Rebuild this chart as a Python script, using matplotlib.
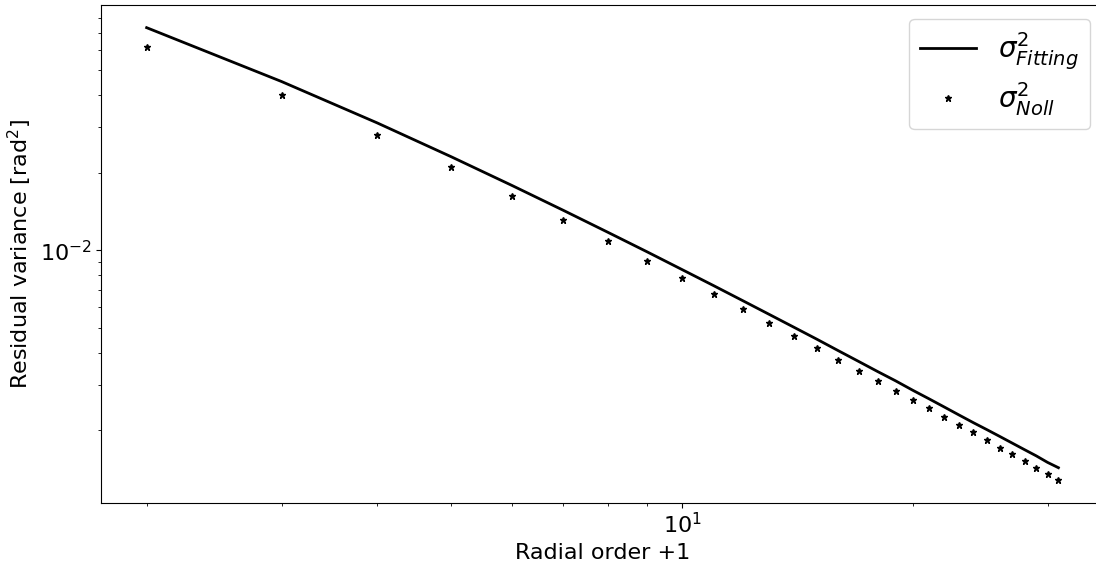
import matplotlib
matplotlib.use('Agg')
import matplotlib.pyplot as plt

# radial order + 1
radial_order = [2, 3, 4, 5, 6, 7, 8, 9, 10, 11, 12, 13, 14, 15, 16,
                17, 18, 19, 20, 21, 22, 23, 24, 25, 26, 27, 28, 29, 30, 31]

# fitting error variance (line)
sigma_fitting = [0.07315, 0.04519, 0.03121, 0.02304, 0.01783, 0.01428, 0.01174,
                 0.00986, 0.00841, 0.00728, 0.00637, 0.00563, 0.00502, 0.00451,
                 0.00407, 0.00370, 0.00338, 0.00311, 0.00286, 0.00265, 0.00246,
                 0.00229, 0.00214, 0.00201, 0.00189, 0.00178, 0.00168, 0.00159,
                 0.00150, 0.00143]

# Noll residual variance (stars)
sigma_noll = [0.0617, 0.03990, 0.02808, 0.02098, 0.01629, 0.01315, 0.01087,
              0.00912, 0.00777, 0.00674, 0.00589, 0.00520, 0.00463, 0.00416,
              0.00376, 0.00341, 0.00311, 0.00285, 0.00262, 0.00243, 0.00225,
              0.00209, 0.00196, 0.00183, 0.00171, 0.00161, 0.00152, 0.00143,
              0.00135, 0.00128]

fig = plt.figure(figsize=(10.96, 5.66), dpi=100)
ax = fig.add_axes([0.0922, 0.1118, 0.9151, 0.8793])

ax.loglog(radial_order, sigma_fitting, 'k-', linewidth=2, label=r'$\sigma^2_{Fitting}$')
ax.loglog(radial_order, sigma_noll, 'k*', markersize=5, label=r'$\sigma^2_{Noll}$')

ax.set_xlabel('Radial order +1', fontsize=16)
ax.set_ylabel('Residual variance [rad$^2$]', fontsize=16)
ax.tick_params(labelsize=16)

ax.legend(fontsize=20, loc='upper right', labelspacing=0.3)

fig.savefig('out.png', dpi=100)
